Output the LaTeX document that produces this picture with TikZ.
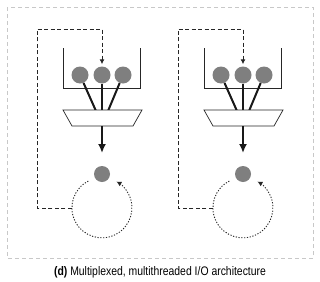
\documentclass[tikz,border=0pt]{standalone}
\usepackage{fontspec}
\setmainfont[FakeStretch=0.84]{Liberation Sans}
\usetikzlibrary{arrows.meta}
\definecolor{ballgray}{HTML}{7F7F7F}
\definecolor{boxgray}{HTML}{C8C8C8}
\begin{document}
\begin{tikzpicture}[x=1pt,y=-1pt,
  outerbox/.style={draw=boxgray,line width=1pt,dash pattern=on 4pt off 3pt},
  ball/.style={circle,fill=ballgray,inner sep=0pt,minimum size=17pt},
  dotball/.style={circle,fill=ballgray,inner sep=0pt,minimum size=16pt},
  bucket/.style={draw=black!85,line width=0.9pt},
  trap/.style={draw=black!85,line width=0.7pt,fill=white},
  spoke/.style={draw=black!90,line width=2pt},
  downarrow/.style={draw=black!90,line width=2pt,-{Latex[length=9pt,width=8pt]}},
  loopline/.style={draw=black!85,line width=1pt,dash pattern=on 4pt off 2.5pt,-{Latex[length=5pt,width=5pt]}},
  cycleline/.style={draw=black!85,line width=0.9pt,dash pattern=on 1.2pt off 1.6pt,-{Latex[length=5pt,width=5pt]}},
  ring/.style={circle,inner sep=0pt,minimum size=60pt}
]
\useasboundingbox (0,0) rectangle (320,281);
\fill[white] (0,0) rectangle (320,281);
\draw[outerbox] (7,7) rectangle (313,258);
\foreach \dx/\n in {0/a,141/b}{
\begin{scope}[xshift=\dx pt]
  % bucket
  \draw[bucket] (63,48) -- (63,88) -- (140,88) -- (140,48);
  % balls
  \node[ball] (l\n) at (80,75) {};
  \node[ball] (m\n) at (102,75) {};
  \node[ball] (r\n) at (123,75) {};
  % trapezoid
  \coordinate (sl\n) at (96,111);
  \coordinate (sm\n) at (102,111);
  \coordinate (sr\n) at (108,111);
  \coordinate (tb\n) at (102,126);
  \coordinate (ae\n) at (102,153);
  \draw[spoke] (l\n) -- (sl\n);
  \draw[spoke] (m\n) -- (sm\n);
  \draw[spoke] (r\n) -- (sr\n);
  \draw[trap] (63,110) -- (142,110) -- (133,126) -- (72,126) -- cycle;
  \draw[downarrow] (tb\n) -- (ae\n);
  % dot and ring
  \node[dotball] (d\n) at (102,174) {};
  \node[ring] (o\n) at (102,208) {};
  \coordinate (c1\n) at (37,208);
  \coordinate (c2\n) at (37,29);
  \coordinate (c3\n) at (102,29);
  \draw[loopline,shorten >=2pt] (o\n.west) -- (c1\n) -- (c2\n) -- (c3\n) -- (m\n);
  \draw[cycleline] (o\n.117) arc[start angle=243,end angle=-61,radius=30];
\end{scope}
}
\node[font=\fontsize{12.4pt}{14pt}\selectfont,inner sep=0pt] (cap) at (160,272) {\textbf{(d)} Multiplexed, multithreaded I/O architecture};
\end{tikzpicture}
\end{document}
